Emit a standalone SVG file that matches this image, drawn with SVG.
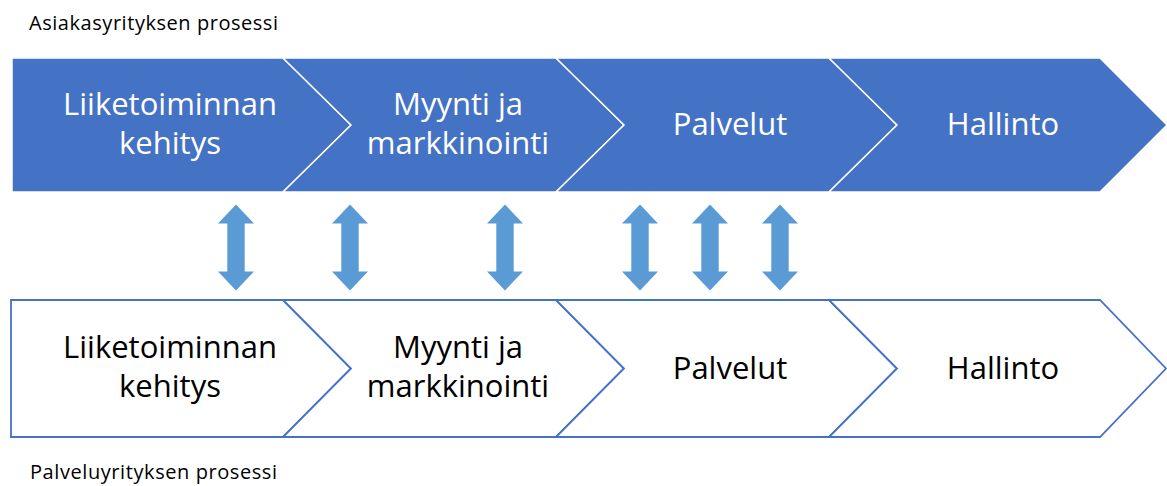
<svg xmlns="http://www.w3.org/2000/svg" width="1167" height="486" viewBox="0 0 1167 486">
  <style>
    .title { font-family: "Open Sans", "Liberation Sans", sans-serif; font-size: 20px; fill: #000000; }
    .lbl { font-family: "Open Sans", "Liberation Sans", sans-serif; font-size: 31px; text-anchor: middle; }
    .top .shape { fill: #4472C4; stroke: #FFFFFF; stroke-width: 1.5; stroke-linejoin: miter; }
    .top .lbl { fill: #FFFFFF; }
    .bottom .shape { fill: #FFFFFF; stroke: #4472C4; stroke-width: 1.8; stroke-linejoin: miter; }
    .bottom .lbl { fill: #000000; }
    .link { fill: #5B9BD5; }
  </style>
  <defs>
    <!-- vertical double-headed arrow, centred on x=0 -->
    <polygon id="updown" points="0,204.5 18,223.5 8.7,223.5 8.7,271.5 18,271.5 0,290.5 -18,271.5 -8.7,271.5 -8.7,223.5 -18,223.5"/>
  </defs>

  <rect x="0" y="0" width="1167" height="486" fill="#FFFFFF"/>

  <text class="title" x="29" y="30" textLength="249" lengthAdjust="spacing">Asiakasyrityksen prosessi</text>
  <text class="title" x="30" y="479" textLength="247" lengthAdjust="spacing">Palveluyrityksen prosessi</text>

  <!-- upper process row -->
  <g class="top">
    <g id="top-liiketoiminta">
      <polygon class="shape" points="12,58 283,58 351,125 283,192 12,192"/>
      <text class="lbl" x="170" y="115">Liiketoiminnan</text>
      <text class="lbl" x="170" y="154">kehitys</text>
    </g>
    <g id="top-myynti">
      <polygon class="shape" points="283,58 556,58 624,125 556,192 283,192 351,125"/>
      <text class="lbl" x="458" y="115">Myynti ja</text>
      <text class="lbl" x="458" y="154">markkinointi</text>
    </g>
    <g id="top-palvelut">
      <polygon class="shape" points="556,58 829,58 897,125 829,192 556,192 624,125"/>
      <text class="lbl" x="730" y="135">Palvelut</text>
    </g>
    <g id="top-hallinto">
      <polygon class="shape" points="829,58 1100,58 1167,125 1100,192 829,192 897,125"/>
      <text class="lbl" x="1003" y="135">Hallinto</text>
    </g>
  </g>

  <!-- lower process row -->
  <g class="bottom">
    <g id="bottom-liiketoiminta">
      <polygon class="shape" points="11,300 283,300 351,368.5 283,437 11,437"/>
      <text class="lbl" x="170" y="358">Liiketoiminnan</text>
      <text class="lbl" x="170" y="397">kehitys</text>
    </g>
    <g id="bottom-myynti">
      <polygon class="shape" points="283,300 556,300 624,368.5 556,437 283,437 351,368.5"/>
      <text class="lbl" x="458" y="358">Myynti ja</text>
      <text class="lbl" x="458" y="397">markkinointi</text>
    </g>
    <g id="bottom-palvelut">
      <polygon class="shape" points="556,300 829,300 897,368.5 829,437 556,437 624,368.5"/>
      <text class="lbl" x="730" y="378.5">Palvelut</text>
    </g>
    <g id="bottom-hallinto">
      <polygon class="shape" points="829,300 1100,300 1166,368.5 1100,437 829,437 897,368.5"/>
      <text class="lbl" x="1003" y="378.5">Hallinto</text>
    </g>
  </g>

  <!-- links between the two rows -->
  <g id="connectors" class="link">
    <use href="#updown" x="236"/>
    <use href="#updown" x="350"/>
    <use href="#updown" x="505"/>
    <use href="#updown" x="640"/>
    <use href="#updown" x="710"/>
    <use href="#updown" x="780"/>
  </g>
</svg>
